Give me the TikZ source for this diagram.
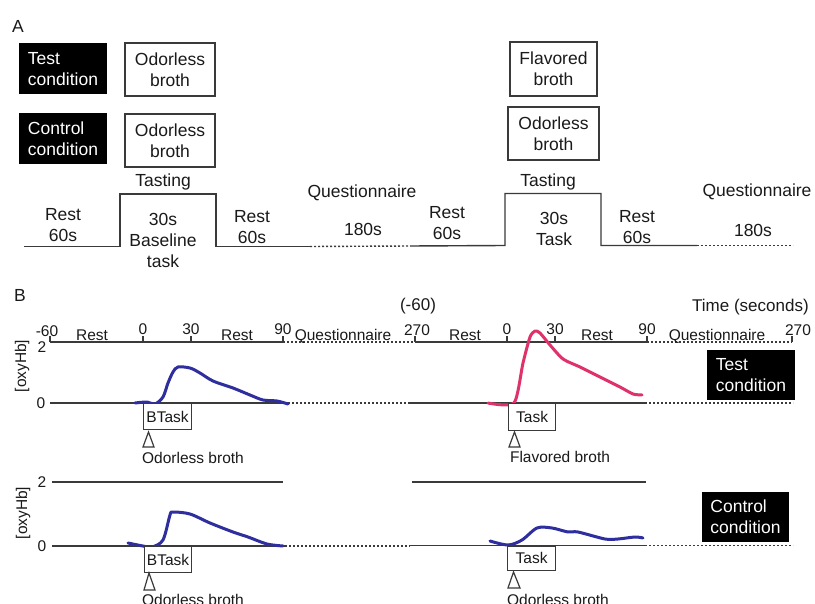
\documentclass[tikz,border=0pt]{standalone}
\usepackage{fontspec}
\setmainfont{Liberation Sans}
\definecolor{ink}{HTML}{1A1A1A}
\definecolor{linec}{HTML}{3A3A3A}
\definecolor{curveblue}{HTML}{2E2E9E}
\definecolor{curvered}{HTML}{E0326A}
\begin{document}
\begin{tikzpicture}[x=1pt,y=-1pt,
  every node/.style={text=ink, inner sep=0pt},
  fA/.style={font=\fontsize{17.5}{21}\selectfont},
  fB/.style={font=\fontsize{15.5}{18}\selectfont},
  wbox/.style={draw=linec, line width=1.3pt, fill=white, fA, align=center, minimum width=90pt, minimum height=53pt},
  bbox/.style={fill=black, text=white, fA, align=left, minimum width=88pt, minimum height=51pt},
  smallbox/.style={draw=linec, line width=1.2pt, fill=white, fB, minimum width=48pt, minimum height=25pt},
  tl/.style={draw=linec, line width=1.4pt},
  dots/.style={draw=linec, line width=1.4pt, dash pattern=on 2pt off 2pt},
  curveb/.style={draw=curveblue, line width=3pt, line cap=round, line join=round},
  curver/.style={draw=curvered, line width=3pt, line cap=round, line join=round},
  tri/.style={draw=linec, line width=1.2pt, fill=white, line join=miter},
]
\useasboundingbox[fill=white] (0,0) rectangle (815,604);

% ---------------- Part A ----------------
\node[fA] (labA) at (18,26) {A};
\node[bbox] (testA) at (63,69) {Test\\condition};
\node[bbox] (ctrlA) at (63,139) {Control\\condition};
\node[wbox] (ob1) at (170,69.5) {Odorless\\broth};
\node[wbox] (ob2) at (170,140.5) {Odorless\\broth};
\node[wbox, minimum width=87pt, minimum height=54pt] (fb) at (553.5,69) {Flavored\\broth};
\node[wbox, minimum width=91pt, minimum height=53pt] (ob3) at (553.5,133.5) {Odorless\\broth};

\coordinate (t0) at (24,246.5);
\coordinate (t1) at (120,246.5);
\coordinate (t2) at (120,194);
\coordinate (t3) at (216,194);
\coordinate (t4) at (216,246.5);
\coordinate (t5) at (310,246.5);
\coordinate (t6) at (410,246);
\coordinate (t7) at (505,245.5);
\coordinate (t8) at (505,193.5);
\coordinate (t9) at (601,193.5);
\coordinate (t10) at (601,245.5);
\coordinate (t11) at (697,245.5);
\coordinate (t12) at (793,245.5);
\draw[tl] (t0) -- (t1) -- (t2) -- (t3) -- (t4) -- (t5);
\draw[dots] (t5) -- (t6);
\draw[tl] (t6) -- (t7) -- (t8) -- (t9) -- (t10) -- (t11);
\draw[dots] (t11) -- (t12);

\node[fA] (tast1) at (163,182) {Tasting};
\node[fA] (tast2) at (548,182) {Tasting};
\node[fA, align=center] (r1) at (63,225) {Rest\\60s};
\node[fA, align=center] (bt) at (163,240.5) {30s\\Baseline\\task};
\node[fA, align=center] (r2) at (252,227.5) {Rest\\60s};
\node[fA] (q1) at (362,193) {Questionnaire};
\node[fA] (s1) at (363,229) {180s};
\node[fA, align=center] (r3) at (447,223) {Rest\\60s};
\node[fA, align=center] (tk) at (554,228.5) {30s\\Task};
\node[fA, align=center] (r4) at (637,227) {Rest\\60s};
\node[fA] (q2) at (757,192) {Questionnaire};
\node[fA] (s2) at (753,230) {180s};

% ---------------- Part B ----------------
\node[fA] (labB) at (20,295) {B};
\node[font=\fontsize{17}{20}\selectfont] (m60) at (418,306) {(-60)};
\node[font=\fontsize{17}{20}\selectfont, anchor=west] (time) at (692,307) {Time (seconds)};

% top axis, left panel
\coordinate (aL0) at (50,342);
\coordinate (aL1) at (283,342);
\coordinate (aL2) at (415,342);
\draw[tl] (aL0) -- (aL1);
\draw[dots] (aL1) -- (aL2);
\foreach \x in {50,143,191,283,415} \draw[tl] (\x,342) -- (\x,336.5);
% top axis, right panel
\coordinate (aR1) at (647,342);
\coordinate (aR2) at (792,342);
\draw[tl] (aL2) -- (aR1);
\draw[dots] (aR1) -- (aR2);
\foreach \x in {507,555,647,792} \draw[tl] (\x,342) -- (\x,336.5);

\node[fB] (am60) at (47,331) {-60};
\node[fB] (y2a) at (42,347) {2};
\node[fB] (restL1) at (92,335) {Rest};
\node[fB] (z0L) at (143,329) {0};
\node[fB] (z30L) at (191,329) {30};
\node[fB] (restL2) at (237,335) {Rest};
\node[fB] (z90L) at (283,329) {90};
\node[fB] (qL) at (343,336) {Questionnaire};
\node[fB] (z270L) at (417,330) {270};
\node[fB] (restR1) at (465,335) {Rest};
\node[fB] (z0R) at (507,329) {0};
\node[fB] (z30R) at (555,329) {30};
\node[fB] (restR2) at (597,335) {Rest};
\node[fB] (z90R) at (647,329) {90};
\node[fB] (qR) at (717,336) {Questionnaire};
\node[fB] (z270R) at (798,330) {270};

% zero line upper
\draw[tl] (50,403) -- (288,403);
\draw[dots] (288,403) -- (410,403);
\draw[tl] (410,403) -- (645,403);
\draw[dots] (645,403) -- (793,403);
\node[fB] (y0a) at (41,403) {0};
\node[fB, rotate=90] (oxy1) at (22,366) {[oxyHb]};

% upper curves
\draw[curveb] plot[smooth, tension=0.5] coordinates {(135,403) (147,402) (155,404) (163,397) (168,383) (173,372) (178,367) (190,368) (200,373) (213,381) (233,388) (250,395) (263,400) (277,401) (288,404)};
\draw[curver] plot[smooth, tension=0.4] coordinates {(488,403) (514,403) (523,363) (530,337) (535,331) (540,333) (550,345) (563,359) (580,367) (600,377) (620,387) (633,394) (642,395)};

\node[smallbox, anchor=north west, minimum width=48pt, minimum height=26pt] (bt1) at (143,403) {BTask};
\node[smallbox, anchor=north west, minimum width=47pt, minimum height=27pt] (tk1) at (508,403) {Task};
\draw[tri] (148.5,432) -- (143,447) -- (154,447) -- cycle;
\draw[tri] (514.5,432) -- (509,447) -- (520,447) -- cycle;
\node[fB] (ob4) at (193,458) {Odorless broth};
\node[fB] (fb2) at (560,457) {Flavored broth};
\node[bbox, minimum width=88pt, minimum height=50pt] (testB) at (751,375) {Test\\condition};

% lower panel
\draw[tl] (52,482) -- (283,482);
\draw[tl] (412,482) -- (646,482);
\draw[tl] (52,546) -- (285,546);
\draw[dots] (285,546) -- (410,546);
\draw[tl] (410,545.5) -- (645,545.5);
\draw[dots] (645,545.5) -- (793,545.5);
\node[fB] (y2b) at (42,482) {2};
\node[fB] (y0b) at (42,546) {0};
\node[fB, rotate=90] (oxy2) at (23,513) {[oxyHb]};

\draw[curveb] plot[smooth, tension=0.5] coordinates {(128,543) (143,546) (152,547) (163,540) (170,515) (173,512) (190,514) (210,523) (233,532) (248,537) (267,544) (283,546)};
\draw[curveb] plot[smooth, tension=0.5] coordinates {(490,541) (508,545) (522,540) (537,528) (552,528) (568,532) (578,532) (605,539) (618,539) (635,537) (643,538)};

\node[smallbox, anchor=north west, minimum width=47pt, minimum height=26pt] (bt2) at (144,546) {BTask};
\node[smallbox, anchor=north west, minimum width=48pt, minimum height=24pt] (tk2) at (507,545.5) {Task};
\draw[tri] (149,573) -- (144,590) -- (155,590) -- cycle;
\draw[tri] (513.5,572) -- (508,588) -- (520,588) -- cycle;
\node[fB] (ob5) at (193,600) {Odorless broth};
\node[fB] (ob6) at (558,600) {Odorless broth};
\node[bbox, minimum width=87pt, minimum height=50pt] (ctrlB) at (745.5,517) {Control\\condition};
\end{tikzpicture}
\end{document}
